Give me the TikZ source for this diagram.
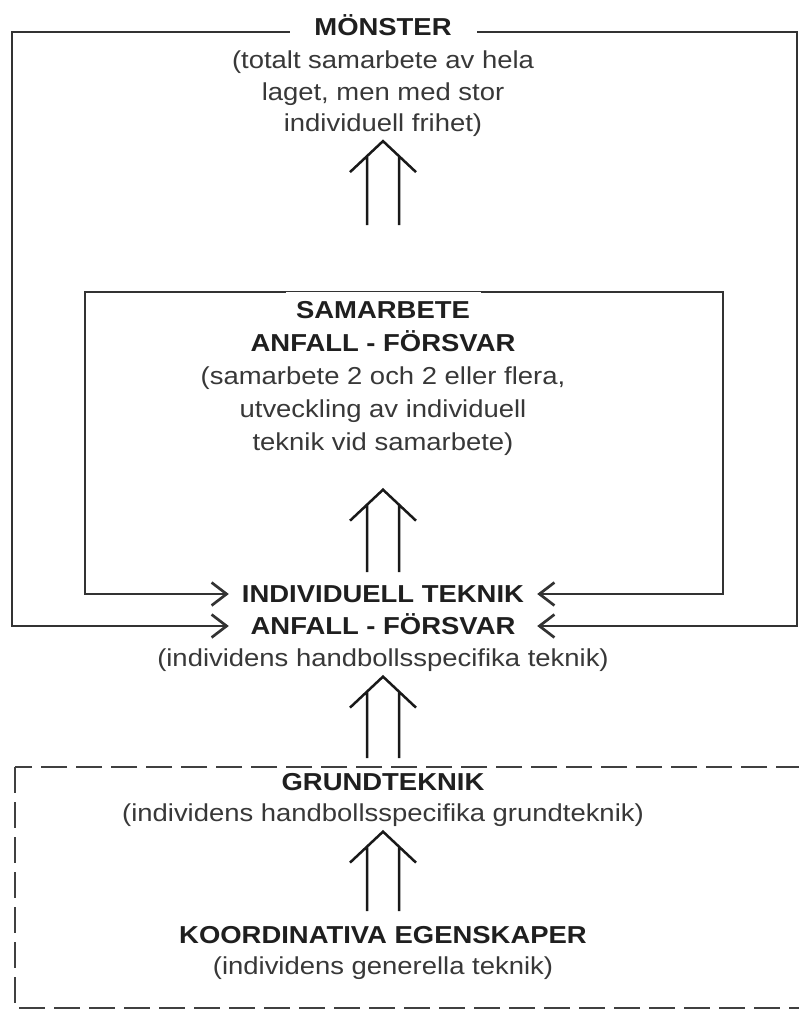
\documentclass[tikz,border=0pt]{standalone}
\usepackage{fontspec}
\setmainfont{Liberation Sans}[FakeStretch=1.12]
\usetikzlibrary{arrows.meta, calc, backgrounds}

\begin{document}
\begin{tikzpicture}[
            x=1pt, y=-1pt,
            font=\fontsize{24.5}{31.5}\selectfont,
            title/.style={font=\fontsize{24.5}{31.5}\selectfont\bfseries, text=black!88, inner sep=0pt, text height=17.5pt, text depth=0pt},
            desc/.style={align=center, text=black!78, inner sep=0pt},
            gap/.style={title, fill=white, inner ysep=9pt},
            frame/.style={draw=black!80, line width=2.9pt},
            barb/.style={frame, line width=2.7pt, {Straight Barb[length=15pt,width=23pt]}-{Straight Barb[length=15pt,width=23pt]}},
            dashbox/.style={draw=black!75, line width=2.9pt, dash pattern=on 26pt off 9pt},
            dbl/.style={draw=black!90, line width=2.5pt, to path={
                ($(\tikztostart)+(-16pt,0)$) -- ($(\tikztotarget)+(-16pt,-15pt)$)
                ($(\tikztostart)+(16pt,0)$) -- ($(\tikztotarget)+(16pt,-15pt)$)
                ($(\tikztotarget)+(-33pt,-31pt)$) -- (\tikztotarget) -- ($(\tikztotarget)+(33pt,-31pt)$)}}
        ]
        \useasboundingbox (0,0) rectangle (799,1009);
        \node[gap, minimum width=187pt] (monster) at (383,27) {MÖNSTER};
        \node[desc] (monsterd) at (383,94) {(totalt samarbete av hela\\laget, men med stor\\individuell frihet)};
        \node[gap, minimum width=195pt] (samarb) at (383,310) {SAMARBETE};
        \node[desc, font=\fontsize{24.5}{33}\selectfont] (samarbd) at (383,393) {\textbf{\color{black!88}ANFALL - FÖRSVAR}\\(samarbete 2 och 2 eller flera,\\utveckling av individuell\\teknik vid samarbete)};
        \node[title, minimum width=308pt] (indivA) at (383,594) {INDIVIDUELL TEKNIK};
        \node[title, minimum width=308pt] (indivB) at (383,626) {ANFALL - FÖRSVAR};
        \node[desc] (indivd) at (383,660) {(individens handbollsspecifika teknik)};
        \node[title] (grund) at (383,782) {GRUNDTEKNIK};
        \node[desc] (grundd) at (383,815) {(individens handbollsspecifika grundteknik)};
        \node[title] (koord) at (383,935) {KOORDINATIVA EGENSKAPER};
        \node[desc] (koordd) at (383,968) {(individens generella teknik)};
        \coordinate (outNW) at (12,32);
        \coordinate (outNE) at (797,32);
        \coordinate (inNW) at (85,292);
        \coordinate (inNE) at (723,292);
        \begin{scope}[on background layer]
            \fill[white] (0,0) rectangle (799,1009);
            \draw[barb] (indivA.west) -| (inNW) -- (inNE) |- (indivA.east);
            \draw[barb] (indivB.west) -| (outNW) -- (outNE) |- (indivB.east);
            \draw[dashbox] (15,767) rectangle (815,1008);
        \end{scope}
        \draw[dbl] ([yshift=67pt]samarb.north) to ([yshift=-4pt]monsterd.south);
        \draw[dbl] ([yshift=13pt]indivA.north) to ([yshift=-34pt]samarbd.south);
        \draw[dbl] ([yshift=15pt]grund.north) to ([yshift=-5pt]indivd.south);
        \draw[dbl] ([yshift=15pt]koord.north) to ([yshift=-5pt]grundd.south);
        \end{tikzpicture}
\end{document}
